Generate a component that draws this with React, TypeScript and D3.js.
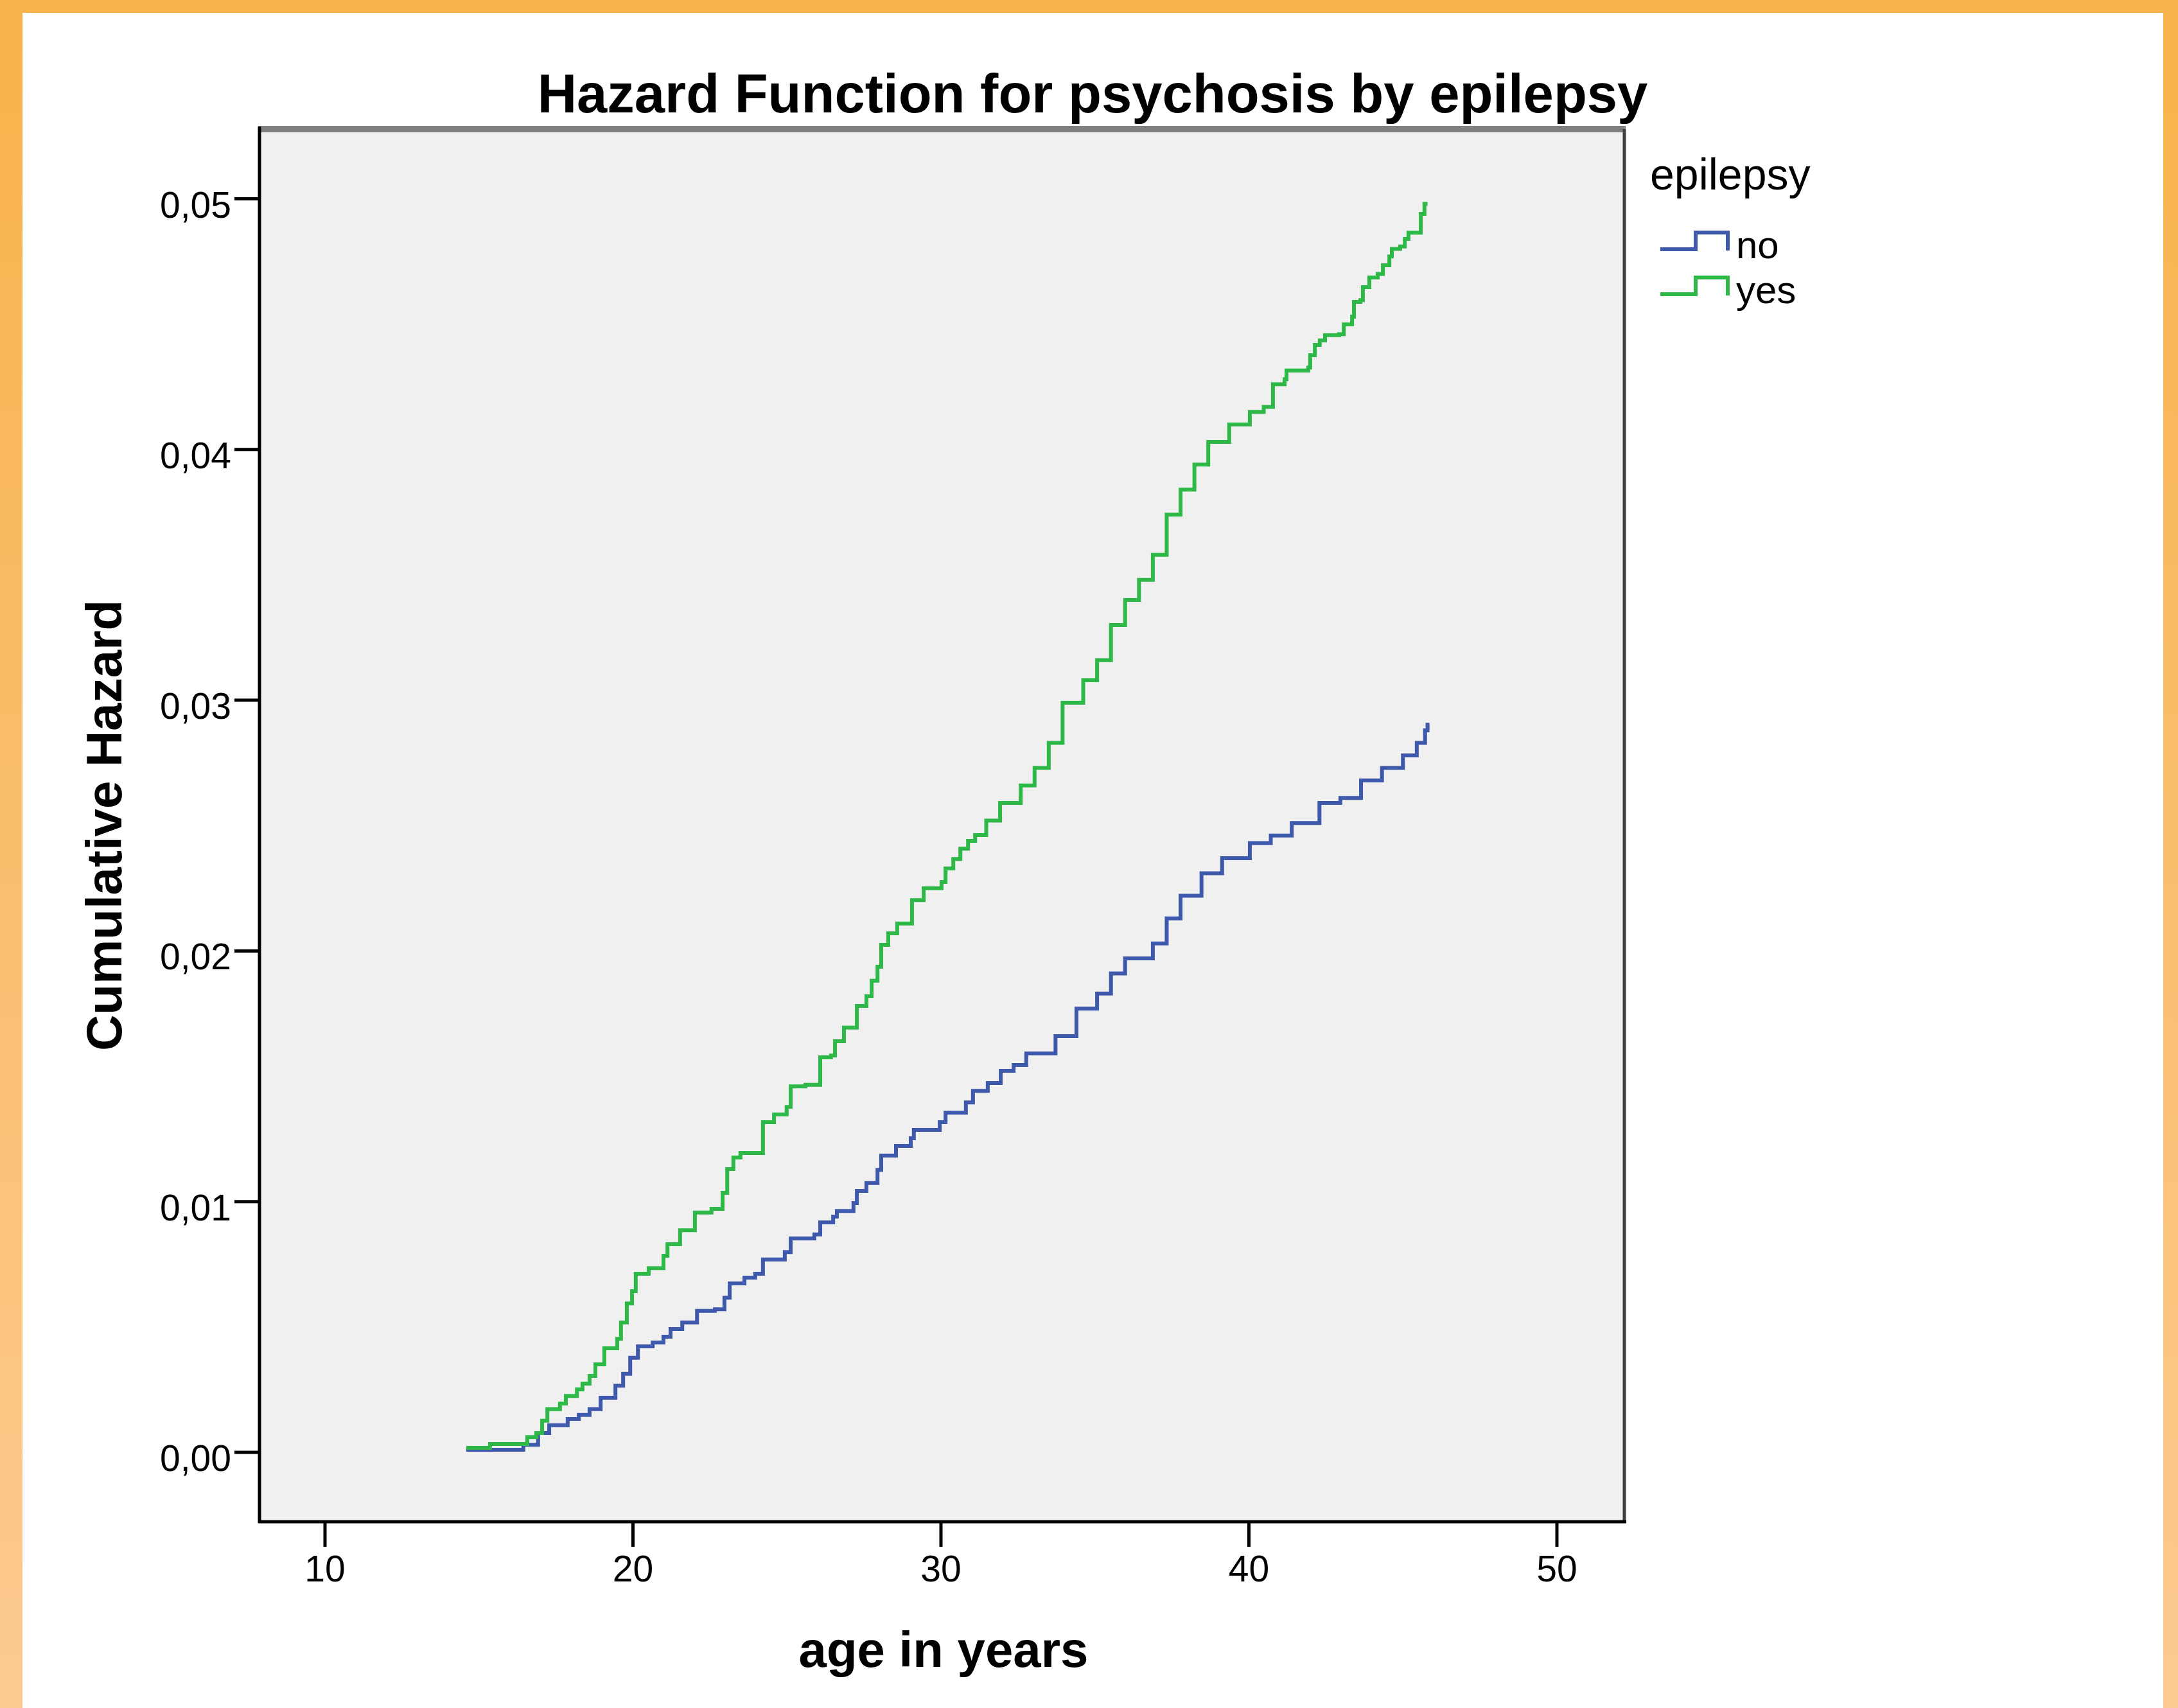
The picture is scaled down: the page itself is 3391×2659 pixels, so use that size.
import React, { useEffect } from "react";
import * as d3 from "d3";

// ---------- data ----------
const groups = ["no", "yes"];
const groupColors = ["#3E58AC", "#2EB848"];

const ageNo = [
  14.59, 16.44, 16.92, 17.28, 17.88, 18.24, 18.59, 18.95, 19.43, 19.68, 19.91, 20.16,
  20.64, 20.99, 21.22, 21.6, 22.08, 22.66, 22.97, 23.14, 23.62, 23.97, 24.22, 24.93,
  25.12, 25.89, 26.08, 26.5, 26.62, 27.16, 27.27, 27.58, 27.94, 28.06, 28.54, 29.02,
  29.12, 29.96, 30.15, 30.81, 31.04, 31.52, 31.94, 32.36, 32.77, 33.72, 34.4, 35.07,
  35.52, 35.98, 36.88, 37.33, 37.78, 38.46, 39.13, 40.03, 40.71, 41.39, 42.29, 42.97,
  43.64, 44.32, 45.0, 45.45, 45.72, 45.8,
];
const hazardNo = [
  0.0001, 0.0003, 0.00077, 0.00108, 0.00133, 0.00149, 0.00172, 0.00218, 0.00266, 0.00313,
  0.00377, 0.00423, 0.00438, 0.00461, 0.00492, 0.00518, 0.00564, 0.00571, 0.00617, 0.00674,
  0.00697, 0.00712, 0.00769, 0.00799, 0.00853, 0.00869, 0.00917, 0.0094, 0.00963, 0.00994,
  0.01043, 0.01074, 0.01127, 0.01184, 0.01222, 0.01253, 0.01286, 0.01317, 0.01355, 0.01396,
  0.01442, 0.01473, 0.01522, 0.01545, 0.01591, 0.0166, 0.0177, 0.0183, 0.0191, 0.0197,
  0.0203, 0.0213, 0.0222, 0.0231, 0.0237, 0.0243, 0.0246, 0.0251, 0.0259, 0.0261,
  0.0268, 0.0273, 0.0278, 0.0283, 0.0288, 0.0291,
];

const ageYes = [
  14.59, 15.36, 16.57, 16.86, 17.05, 17.22, 17.63, 17.82, 18.18, 18.36, 18.59, 18.78,
  19.07, 19.49, 19.61, 19.8, 19.97, 20.09, 20.51, 20.99, 21.12, 21.53, 22.01, 22.55,
  22.91, 23.06, 23.26, 23.49, 24.22, 24.58, 24.99, 25.12, 25.6, 26.08, 26.43, 26.56,
  26.85, 27.27, 27.58, 27.75, 27.94, 28.06, 28.29, 28.58, 29.06, 29.44, 30.02, 30.15,
  30.4, 30.63, 30.88, 31.11, 31.47, 31.92, 32.59, 33.04, 33.5, 33.95, 34.62, 35.07,
  35.52, 35.98, 36.43, 36.88, 37.33, 37.78, 38.23, 38.68, 39.36, 40.03, 40.48, 40.78,
  41.16, 41.22, 41.93, 41.99, 42.14, 42.3, 42.47, 42.93, 43.08, 43.35, 43.41, 43.62,
  43.7, 43.91, 44.18, 44.35, 44.56, 44.64, 44.91, 45.06, 45.18, 45.58, 45.7, 45.8,
];
const hazardYes = [
  0.00018, 0.00033, 0.00061, 0.00077, 0.00126, 0.00172, 0.00195, 0.00225, 0.00251, 0.00274,
  0.00305, 0.00351, 0.00415, 0.00453, 0.00518, 0.00594, 0.00643, 0.00712, 0.00735, 0.00784,
  0.0083, 0.00886, 0.00956, 0.00971, 0.01035, 0.0113, 0.01176, 0.01194, 0.01317, 0.01348,
  0.01378, 0.0146, 0.01466, 0.01576, 0.01583, 0.0164, 0.01694, 0.01781, 0.01819, 0.01881,
  0.01937, 0.02024, 0.0207, 0.02109, 0.02203, 0.0225, 0.02275, 0.02329, 0.02367, 0.02408,
  0.02439, 0.02462, 0.0252, 0.0259, 0.0266, 0.0273, 0.0283, 0.0299, 0.0308, 0.0316,
  0.033, 0.034, 0.0348, 0.0358, 0.0374, 0.0384, 0.0394, 0.0403, 0.041, 0.0415,
  0.0417, 0.0426, 0.04281, 0.04315, 0.04327, 0.04376, 0.04417, 0.04435, 0.04456, 0.0446,
  0.04499, 0.0453, 0.04589, 0.04596, 0.04648, 0.04686, 0.047, 0.04735, 0.0477, 0.048,
  0.0481, 0.0484, 0.04865, 0.0494, 0.0498, 0.0498,
];

const xTicks = [10, 20, 30, 40, 50];
const yTicks = [0, 0.01, 0.02, 0.03, 0.04, 0.05];
const yTickLabels = ["0,00", "0,01", "0,02", "0,03", "0,04", "0,05"];

const titleText = "Hazard Function for psychosis by epilepsy";
const xTitle = "age in years";
const yTitle = "Cumulative Hazard";
const legendTitle = "epilepsy";

// ---------- layout ----------
const W = 3391;
const H = 2659;
const frame = { left: 404, right: 2529, top: 201, bottom: 2369 };
const FONT = "'Liberation Sans', Arial, sans-serif";

export default function App() {
  useEffect(() => {
    document.body.style.margin = "0";
  }, []);

  const x = d3.scaleLinear().domain([10, 50]).range([506, 2424]);
  const y = d3.scaleLinear().domain([0, 0.05]).range([2261, 309.5]);

  const line = d3
    .line<[number, number]>()
    .x((d) => x(d[0]))
    .y((d) => y(d[1]))
    .curve(d3.curveStepAfter);

  const seriesNo: [number, number][] = ageNo.map((a, i) => [a, hazardNo[i]]);
  const seriesYes: [number, number][] = ageYes.map((a, i) => [a, hazardYes[i]]);
  const series = [seriesNo, seriesYes];

  const legendRows = [0, 1].map((i) => ({ label: groups[i], color: groupColors[i], y0: 388 + i * 70 }));

  return (
    <svg width={W} height={H} style={{ display: "block" }} xmlns="http://www.w3.org/2000/svg">
      <defs>
        <linearGradient id="bg" x1="0" y1="0" x2="0" y2="1">
          <stop offset="0" stopColor="#F8B24A" />
          <stop offset="1" stopColor="#FCCA90" />
        </linearGradient>
      </defs>
      <rect x={0} y={0} width={W} height={H} fill="url(#bg)" />
      <rect x={35} y={20} width={3368 - 35} height={H - 20} fill="#ffffff" />

      {/* title */}
      <text x={1701} y={175} textAnchor="middle" fontFamily={FONT} fontWeight="bold" fontSize={85} fill="#000">
        {titleText}
      </text>

      {/* plot area */}
      <rect
        x={frame.left}
        y={frame.top}
        width={frame.right - frame.left}
        height={frame.bottom - frame.top}
        fill="#F0F0F0"
      />
      <line x1={frame.left - 2} x2={frame.right + 2} y1={frame.top} y2={frame.top} stroke="#7F7F7F" strokeWidth={10} />
      <line x1={frame.right} x2={frame.right} y1={frame.top} y2={frame.bottom} stroke="#404040" strokeWidth={5} />
      <line x1={frame.left} x2={frame.left} y1={frame.top - 4} y2={frame.bottom + 2} stroke="#000" strokeWidth={5} />
      <line x1={frame.left - 2} x2={frame.right + 3} y1={frame.bottom} y2={frame.bottom} stroke="#000" strokeWidth={5} />

      {/* curves */}
      {series.map((s, i) => (
        <path key={i} d={line(s) || ""} fill="none" stroke={groupColors[i]} strokeWidth={6} strokeLinejoin="miter" />
      ))}

      {/* y axis */}
      {yTicks.map((t, i) => (
        <g key={"y" + i}>
          <line x1={365} x2={frame.left} y1={y(t)} y2={y(t)} stroke="#000" strokeWidth={5} />
          <text x={360} y={y(t) + 29} textAnchor="end" fontFamily={FONT} fontSize={57} fill="#000">
            {yTickLabels[i]}
          </text>
        </g>
      ))}

      {/* x axis */}
      {xTicks.map((t, i) => (
        <g key={"x" + i}>
          <line x1={x(t)} x2={x(t)} y1={frame.bottom} y2={2408} stroke="#000" strokeWidth={5} />
          <text x={x(t)} y={2462} textAnchor="middle" fontFamily={FONT} fontSize={57} fill="#000">
            {String(t)}
          </text>
        </g>
      ))}

      {/* axis titles */}
      <text x={1469} y={2595} textAnchor="middle" fontFamily={FONT} fontWeight="bold" fontSize={78} fill="#000">
        {xTitle}
      </text>
      <text
        transform={`translate(189,1285) rotate(-90)`}
        textAnchor="middle"
        fontFamily={FONT}
        fontWeight="bold"
        fontSize={78}
        fill="#000"
      >
        {yTitle}
      </text>

      {/* legend */}
      <text x={2569} y={295} fontFamily={FONT} fontSize={68} fill="#000">
        {legendTitle}
      </text>
      {legendRows.map((r, i) => (
        <g key={"l" + i}>
          <path
            d={`M2585,${r.y0} H2640 V${r.y0 - 26} H2690 V${r.y0 + 2}`}
            fill="none"
            stroke={r.color}
            strokeWidth={6}
          />
          <text x={2703} y={r.y0 + 14} fontFamily={FONT} fontSize={60} fill="#000">
            {r.label}
          </text>
        </g>
      ))}
    </svg>
  );
}
